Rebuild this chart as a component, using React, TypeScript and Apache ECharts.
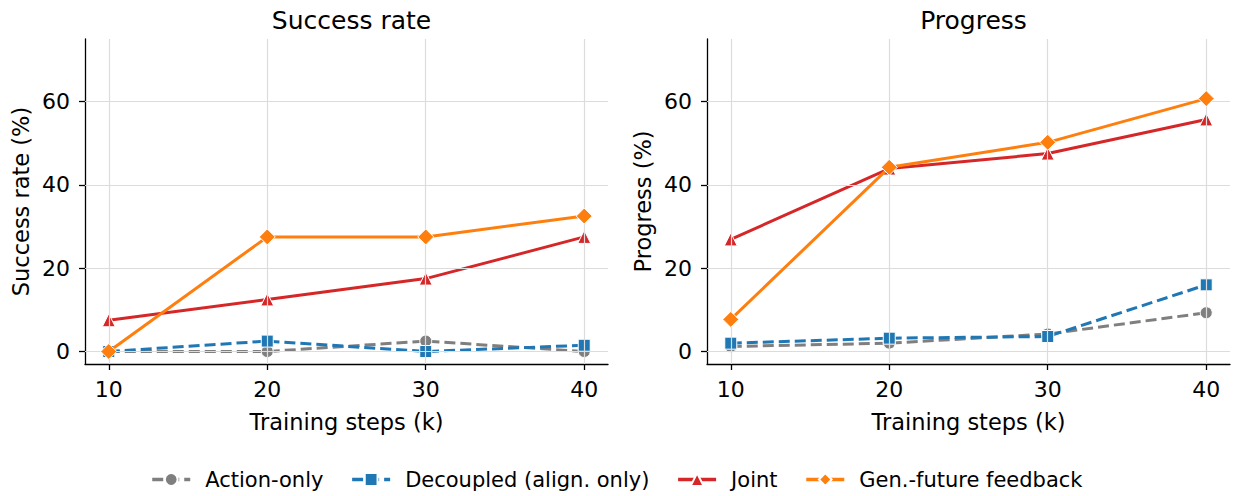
import React, { useEffect, useRef } from "react";
import * as echarts from "echarts";

const steps = [10, 20, 30, 40];
const xTicks = [10, 20, 30, 40];
const yTicks = [0, 20, 40, 60];

const seriesNames = ["Action-only", "Decoupled (align. only)", "Joint", "Gen.-future feedback"];

const srActionOnly = [0, 0, 2.5, 0];
const srDecoupled = [0, 2.5, 0, 1.5];
const srJoint = [7.5, 12.5, 17.5, 27.5];
const srGenFuture = [0, 27.5, 27.5, 32.5];

const prActionOnly = [1.2, 2.0, 4.2, 9.3];
const prDecoupled = [2.0, 3.2, 3.6, 16.0];
const prJoint = [26.9, 43.9, 47.5, 55.7];
const prGenFuture = [7.7, 44.2, 50.2, 60.7];

const colors = ["#7f7f7f", "#1f77b4", "#d62728", "#ff7f0e"];
const symbols = ["circle", "rect", "triangle", "diamond"];
const symbolSizes = [12, 12, 13, 16];
const dashed = [true, true, false, false];

const FONT = "DejaVu Sans";

export default function App() {
  const ref = useRef<HTMLDivElement>(null);
  useEffect(() => {
    if (!ref.current) return;
    const chart = echarts.init(ref.current, null, { renderer: "svg" });

    const grids = [
      { left: 85, right: 625, top: 39, bottom: 132 },
      { left: 707, right: 3, top: 39, bottom: 132 },
    ];
    const yNames = ["Success rate (%)", "Progress (%)"];
    const titles = ["Success rate", "Progress"];
    const dataSets = [
      [srActionOnly, srDecoupled, srJoint, srGenFuture],
      [prActionOnly, prDecoupled, prJoint, prGenFuture],
    ];

    const xAxes = grids.map((_, i) => ({
      type: "value",
      gridIndex: i,
      min: 8.5,
      max: 41.5,
      name: "Training steps (k)",
      nameLocation: "middle",
      nameGap: 46,
      nameTextStyle: { fontFamily: FONT, fontSize: 22.5, color: "#000" },
      axisLine: { show: true, onZero: false, lineStyle: { color: "#000", width: 1.3 } },
      axisTick: { show: true, length: 6, customValues: xTicks, lineStyle: { color: "#000", width: 1.3 } },
      axisLabel: { customValues: xTicks, fontFamily: FONT, fontSize: 22, color: "#000", margin: 14 },
      splitLine: { show: false },
    }));
    const yAxes = grids.map((_, i) => ({
      type: "value",
      gridIndex: i,
      min: -3,
      max: 75,
      name: yNames[i],
      nameLocation: "middle",
      nameGap: 53,
      nameTextStyle: { fontFamily: FONT, fontSize: 22.5, color: "#000" },
      axisLine: { show: true, onZero: false, lineStyle: { color: "#000", width: 1.3 } },
      axisTick: { show: true, length: 6, customValues: yTicks, lineStyle: { color: "#000", width: 1.3 } },
      axisLabel: { customValues: yTicks, fontFamily: FONT, fontSize: 22, color: "#000", margin: 15 },
      splitLine: { show: false },
    }));

    const series: any[] = [];
    grids.forEach((_, g) => {
      series.push({
        type: "line",
        name: "grid" + g,
        xAxisIndex: g,
        yAxisIndex: g,
        data: [],
        silent: true,
        z: 0,
        markLine: {
          silent: true,
          symbol: ["none", "none"],
          label: { show: false },
          lineStyle: { color: "#dcdcdc", width: 1.2, type: "solid" },
          data: [
            ...yTicks.map((v) => ({ yAxis: v })),
            ...xTicks.map((v) => ({ xAxis: v })),
          ],
        },
      });
      dataSets[g].forEach((vals, k) => {
        series.push({
          type: "line",
          name: seriesNames[k],
          xAxisIndex: g,
          yAxisIndex: g,
          data: steps.map((s, j) => [s, vals[j]]),
          symbol: symbols[k],
          symbolSize: symbolSizes[k],
          showSymbol: true,
          z: 2 + k,
          lineStyle: { color: colors[k], width: 3, type: dashed[k] ? [11, 5] : "solid" },
          itemStyle: { color: colors[k], borderColor: "#fff", borderWidth: 1 },
        });
      });
    });

    chart.setOption({
      animation: false,
      backgroundColor: "#fff",
      title: titles.map((t, i) => ({
        text: t,
        left: (grids[i].left + (1233 - grids[i].right)) / 2,
        textAlign: "center",
        top: 3,
        textStyle: { fontFamily: FONT, fontSize: 25, fontWeight: "normal", color: "#000" },
      })),
      grid: grids,
      xAxis: xAxes,
      yAxis: yAxes,
      legend: {
        data: seriesNames,
        bottom: 1,
        left: "center",
        itemWidth: 38,
        itemHeight: 16,
        itemGap: 27,
        lineStyle: { width: 3.5 },
        textStyle: { fontFamily: FONT, fontSize: 21, color: "#000", padding: [0, 0, 0, 10] },
      },
      series,
    });
    return () => chart.dispose();
  }, []);
  return (
    <div
      ref={ref}
      style={{ position: "fixed", left: 0, top: 0, width: 1233, height: 496 }}
    />
  );
}
